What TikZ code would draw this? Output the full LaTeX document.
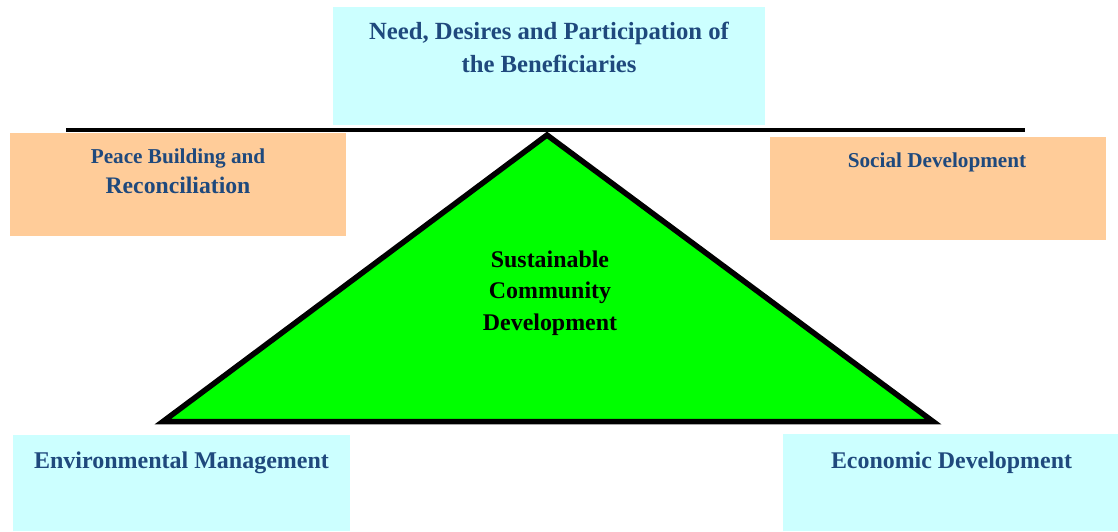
\documentclass[tikz,border=0pt]{standalone}
\usepackage{fontspec}
\setmainfont{Liberation Serif}
\definecolor{boxcyan}{HTML}{CCFFFF}
\definecolor{boxpeach}{HTML}{FFCC99}
\definecolor{pyramid}{HTML}{00FF00}
\definecolor{labelblue}{HTML}{1F497D}
\begin{document}
\begin{tikzpicture}[x=1pt,y=-1pt,
  panel/.style={draw=none,inner sep=0pt,outer sep=0pt,anchor=north west},
  cyanbox/.style={panel,fill=boxcyan},
  peachbox/.style={panel,fill=boxpeach},
  caption/.style={text=labelblue,align=center,inner sep=0pt,anchor=base}]
\useasboundingbox (0,0) rectangle (1118,531);

% coloured panels, placed by their top-left corners
\node[cyanbox,minimum width=432pt,minimum height=118pt] (need) at (333,7) {};
\node[peachbox,minimum width=336pt,minimum height=103pt] (peace) at (10,133) {};
\node[peachbox,minimum width=336pt,minimum height=103pt] (social) at (770,137) {};
\node[cyanbox,minimum width=337pt,minimum height=96pt] (env) at (13,435) {};
\node[cyanbox,minimum width=335pt,minimum height=97pt] (econ) at (783,434) {};

% the beam
\coordinate (beamL) at (66,129.8);
\coordinate (beamR) at (1025,129.8);
\draw[line width=3.5pt] (beamL) -- (beamR);

% the pyramid
\coordinate (apex) at (547,135);
\coordinate (baseL) at (163,421.5);
\coordinate (baseR) at (933,421.5);
\draw[line width=5.5pt,fill=pyramid,line join=miter] (apex) -- (baseL) -- (baseR) -- cycle;

% captions (base anchor = baseline of the last line)
\node[caption,font=\bfseries\fontsize{24.7}{33}\selectfont] (needtxt) at (549,72)
  {Need, Desires and Participation of\\the Beneficiaries};
\node[caption,font=\bfseries\fontsize{21.2}{30}\selectfont] (peacetxt) at (178,193)
  {Peace Building and\\{\fontsize{23.7}{30}\selectfont Reconciliation}};
\node[caption,font=\bfseries\fontsize{21.2}{26}\selectfont] (socialtxt) at (937,167)
  {Social Development};
\node[caption,font=\bfseries\fontsize{24}{30}\selectfont] (envtxt) at (181.5,468)
  {Environmental Management};
\node[caption,font=\bfseries\fontsize{23.9}{30}\selectfont] (econtxt) at (951.5,468)
  {Economic Development};
\node[caption,text=black,font=\bfseries\fontsize{23.9}{31.5}\selectfont] (sustxt) at (550,330)
  {Sustainable\\Community\\Development};
\end{tikzpicture}
\end{document}
